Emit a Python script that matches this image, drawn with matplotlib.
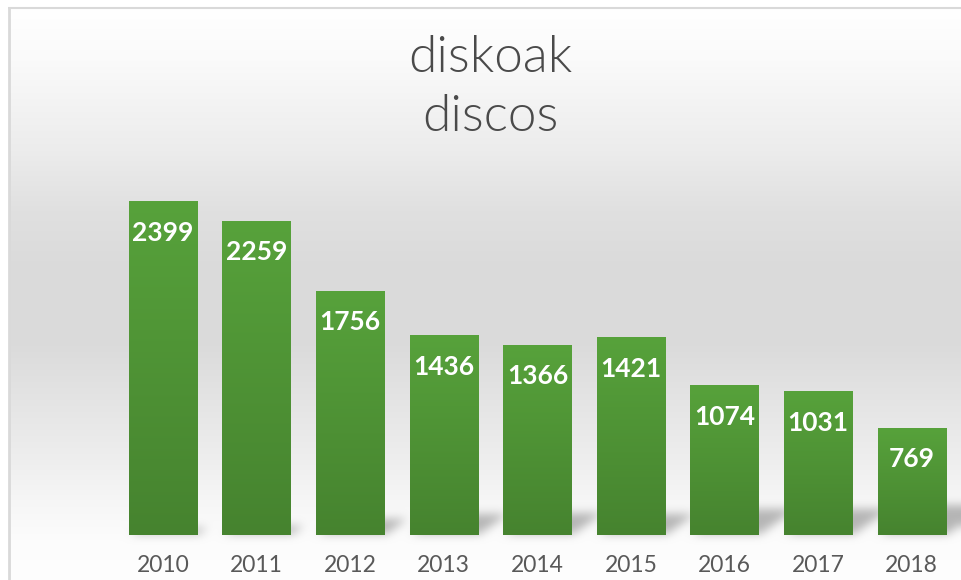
import numpy as np
import matplotlib
matplotlib.use("Agg")
import matplotlib.pyplot as plt
from matplotlib.colors import LinearSegmentedColormap

# ---- data ----
years = ["2010", "2011", "2012", "2013", "2014", "2015", "2016", "2017", "2018"]
values = [2399, 2259, 1756, 1436, 1366, 1421, 1074, 1031, 769]
title_lines = ["diskoak", "discos"]

W, H = 961, 580
DPI = 100
fig = plt.figure(figsize=(W / DPI, H / DPI), dpi=DPI)
fig.patch.set_facecolor("white")

# background axes in pixel space
bg = fig.add_axes([0, 0, 1, 1])
bg.set_xlim(0, W)
bg.set_ylim(H, 0)
bg.axis("off")

# main data axes
ax = fig.add_axes([0, 0, 1, 1])
ax.patch.set_alpha(0)
ax.axis("off")
x0_px, dx_px, base_px, upp = 163.0, 93.6, 535.0, 7.2
ax.set_xlim((0 - x0_px) / dx_px, (W - x0_px) / dx_px)
ax.set_ylim(-(H - base_px) * upp, base_px * upp)

# ---- background gradient ----
stops_y = [8, 60, 150, 210, 270, 340, 400, 460, 500, 540, 580]
stops_g = [255, 250, 236, 224, 218, 218, 228, 238, 246, 252, 254]
rows = np.arange(H)
g = np.interp(rows, stops_y, stops_g) / 255.0
img = np.ones((H, W, 3))
img[:, :, :] = g[:, None, None]

# ---- shadows (computed from bar geometry) ----
xs = np.arange(len(values))
bw = 0.73
mask = np.zeros((H, W))
for i, v in enumerate(values):
    (xl, yb) = ax.transData.transform((xs[i] - bw / 2, 0))
    (xr, yt) = ax.transData.transform((xs[i] + bw / 2, v))
    yb_img = H - yb
    hpx = yb - yt
    hs = 38 + 0.1 * hpx
    s = 1.4 * hs
    a, b = 3, 2
    for r in range(int(yb_img - b - hs), int(yb_img - b) + 1):
        t = (yb_img - b - r) / hs
        c0 = int(xl + a + s * t)
        c1 = int(xr + a + s * t)
        mask[r, max(c0, 0):min(c1, W)] = 1.0

def box_blur(m, rad):
    k = 2 * rad + 1
    p = np.pad(m, rad, mode="edge")
    c = np.cumsum(p, axis=0)
    c = np.vstack([np.zeros((1, c.shape[1])), c])
    m2 = (c[k:] - c[:-k]) / k
    c = np.cumsum(m2, axis=1)
    c = np.hstack([np.zeros((c.shape[0], 1)), c])
    return (c[:, k:] - c[:, :-k]) / k

for _ in range(3):
    mask = box_blur(mask, 4)
mask = mask[:H, :W]
img = img * (1 - 0.27 * mask[:, :, None])
img[:8, :, :] = 1.0
img[:, :9, :] = 1.0

bg.imshow(img, extent=[0, W, H, 0], aspect="auto", interpolation="bilinear", zorder=0)
bg.plot([8.5, 8.5], [7, H], color="#d9d9d9", lw=2, solid_capstyle="butt")
bg.plot([8, W], [7.5, 7.5], color="#d9d9d9", lw=1.5, solid_capstyle="butt")

# ---- bars with vertical gradient ----
cmap = LinearSegmentedColormap.from_list("g", ["#46832f", "#57a23b"])
grad = np.linspace(0, 1, 256)[:, None]
for i, v in enumerate(values):
    ax.imshow(grad, cmap=cmap, origin="lower", aspect="auto",
              extent=[xs[i] - bw / 2, xs[i] + bw / 2, 0, v], zorder=3)
    ax.annotate(str(v), (xs[i], v), xytext=(0, -31), textcoords="offset pixels",
                ha="center", va="center", color="white", fontsize=19,
                fontweight="bold", family=["Lato", "DejaVu Sans"], zorder=5)
    ax.annotate(years[i], (xs[i], 0), xytext=(0, -30), textcoords="offset pixels",
                ha="center", va="center", color="#595959", fontsize=16.5,
                family=["Lato", "DejaVu Sans"], zorder=5)

ax.set_aspect("auto")
ax.set_xlim((0 - x0_px) / dx_px, (W - x0_px) / dx_px)
ax.set_ylim(-(H - base_px) * upp, base_px * upp)

# ---- title ----
for k, line in enumerate(title_lines):
    bg.text(490, 58 + 59 * k, line, ha="center", va="center", fontsize=37,
            color="#4a4a4a", fontweight=300, family=["Lato", "DejaVu Sans"])

fig.savefig("out.png", dpi=DPI)
